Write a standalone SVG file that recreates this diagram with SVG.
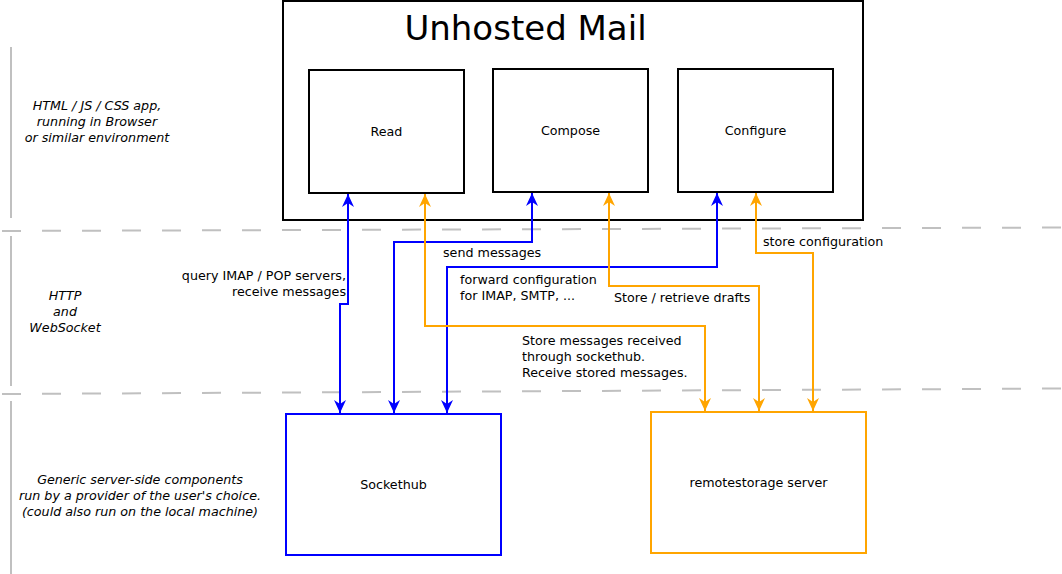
<svg xmlns="http://www.w3.org/2000/svg" width="1062" height="574" viewBox="0 0 1062 574">
<defs>
<style>
text{font-family:"DejaVu Sans","Liberation Sans",sans-serif;font-size:12.7px;fill:#000}
.it{font-style:italic;text-anchor:middle}
.c{text-anchor:middle}
.r{text-anchor:end}
.box{fill:#fff;stroke:#000;stroke-width:2}
.sep{stroke:#c0c0c0;stroke-width:2;fill:none}
.dash{stroke:#c0c0c0;stroke-width:2;fill:none;stroke-dasharray:19 21}
.blue{stroke:#0000ff;stroke-width:2;fill:none;marker-start:url(#ab);marker-end:url(#ab)}
.orange{stroke:#ffa500;stroke-width:2;fill:none;marker-start:url(#ao);marker-end:url(#ao)}
</style>
<marker id="ab" markerUnits="userSpaceOnUse" markerWidth="14" markerHeight="14" viewBox="0 -7 14 14" refX="13" refY="0" orient="auto-start-reverse"><path d="M13,0 L0,-6 L4,0 L0,6 Z" fill="#0000ff"/></marker>
<marker id="ao" markerUnits="userSpaceOnUse" markerWidth="14" markerHeight="14" viewBox="0 -7 14 14" refX="13" refY="0" orient="auto-start-reverse"><path d="M13,0 L0,-6 L4,0 L0,6 Z" fill="#ffa500"/></marker>
</defs>
<rect width="1062" height="574" fill="#fff"/>
<g id="layers">
<line class="sep" x1="11" y1="47" x2="11" y2="218"/>
<line class="sep" x1="11" y1="236" x2="11" y2="386"/>
<line class="sep" x1="11" y1="401" x2="11" y2="574"/>
<line class="dash" x1="2" y1="231" x2="1062" y2="227.5"/>
<line class="dash" x1="2" y1="394" x2="1062" y2="388.5"/>
<text class="it" x="97" y="110">HTML / JS / CSS app,</text>
<text class="it" x="97" y="126">running in Browser</text>
<text class="it" x="97" y="142">or similar environment</text>
<text class="it" x="65" y="300">HTTP</text>
<text class="it" x="65" y="316">and</text>
<text class="it" x="65" y="332">WebSocket</text>
<text class="it" x="140" y="484">Generic server-side components</text>
<text class="it" x="140" y="500">run by a provider of the user's choice.</text>
<text class="it" x="140" y="515.5">(could also run on the local machine)</text>
</g>
<g id="unhosted-mail">
<rect class="box" x="283" y="1" width="580" height="219"/>
<text class="c" x="525.5" y="39.5" style="font-size:34px">Unhosted Mail</text>
</g>
<g id="read">
<rect class="box" x="309" y="70" width="155" height="123"/>
<text class="c" x="386.5" y="135.5">Read</text>
</g>
<g id="compose">
<rect class="box" x="493" y="69" width="155" height="123"/>
<text class="c" x="570.5" y="135">Compose</text>
</g>
<g id="configure">
<rect class="box" x="678" y="69" width="155" height="123"/>
<text class="c" x="755.5" y="135">Configure</text>
</g>
<g id="sockethub">
<rect x="286" y="414" width="215" height="141" fill="#fff" stroke="#0000ff" stroke-width="2"/>
<text class="c" x="393.5" y="489">Sockethub</text>
</g>
<g id="remotestorage">
<rect x="651" y="412" width="215" height="141" fill="#fff" stroke="#ffa500" stroke-width="2"/>
<text class="c" x="758.5" y="487">remotestorage server</text>
</g>
<g id="connectors">
<path class="blue" d="M348,194 V304 H340 V413"/>
<path class="blue" d="M532,193 V242 H394 V413"/>
<path class="blue" d="M717,193 V267 H447 V413"/>
<path class="orange" d="M425,194 V326 H705 V411"/>
<path class="orange" d="M609,193 V286 H759 V411"/>
<path class="orange" d="M756,193 V253 H813 V411"/>
<text class="r" x="346" y="279.5">query IMAP / POP servers,</text>
<text class="r" x="346" y="295.5">receive messages</text>
<text x="443" y="256.5">send messages</text>
<text x="460" y="284">forward configuration</text>
<text x="460" y="300">for IMAP, SMTP, ...</text>
<text x="614" y="302">Store / retrieve drafts</text>
<text x="763" y="245.5">store configuration</text>
<text x="522" y="345">Store messages received</text>
<text x="522" y="361">through sockethub.</text>
<text x="522" y="377">Receive stored messages.</text>
</g>
</svg>
